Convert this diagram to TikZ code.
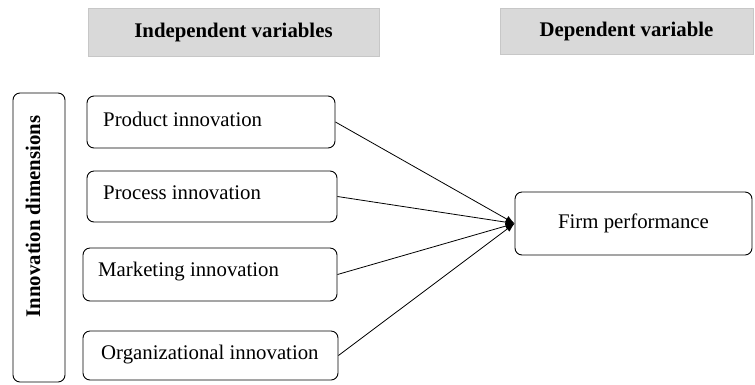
\documentclass[tikz,border=0pt]{standalone}
\usepackage{fontspec}
\setmainfont{Liberation Serif}
\usetikzlibrary{arrows.meta}
\begin{document}
\begin{tikzpicture}[x=1pt,y=-1pt,
  every node/.style={font=\fontsize{20.8}{24}\selectfont},
  header/.style={draw=black!22, fill=black!15, line width=0.8pt, inner sep=0pt, font=\fontsize{20.8}{24}\selectfont\bfseries},
  rbox/.style={draw, line width=0.9pt, rounded corners=7pt, inner sep=0pt},
  conn/.style={line width=0.8pt, -{Latex[length=9pt,width=7pt]}}
]
\useasboundingbox (0,0) rectangle (755,384);
% headers
\node[header, minimum width=291pt, minimum height=48pt] (hind) at (233.5,32) {Independent variables};
\node[header, minimum width=253pt, minimum height=46pt] (hdep) at (626.5,31) {Dependent variable};
% innovation dimensions
\node[rbox, minimum width=52pt, minimum height=289pt] (dim) at (39,237.5) {};
\node[rotate=90, font=\fontsize{20.8}{24}\selectfont\bfseries, inner sep=0pt] (dimtext) at (33,216.5) {Innovation dimensions};
% independent boxes
\node[rbox, minimum width=248pt, minimum height=52pt] (prod) at (211,122) {};
\node[anchor=west, inner sep=0pt] (prodt) at (103,119) {Product innovation};
\node[rbox, minimum width=250pt, minimum height=51pt] (proc) at (212,196.5) {};
\node[anchor=west, inner sep=0pt] (proct) at (103,193) {Process innovation};
\node[rbox, minimum width=254pt, minimum height=53pt] (mark) at (210,274.5) {};
\node[anchor=west, inner sep=0pt] (markt) at (98,272) {Marketing innovation};
\node[rbox, minimum width=255pt, minimum height=49pt] (org) at (210.5,355.5) {};
\node[anchor=west, inner sep=0pt] (orgt) at (101,355) {Organizational innovation};
% dependent box
\node[rbox, minimum width=237pt, minimum height=63pt] (firm) at (633.5,223.5) {Firm performance};
% connectors
\draw[conn] (prod.east) -- (firm.west);
\draw[conn] (proc.east) -- (firm.west);
\draw[conn] (mark.east) -- (firm.west);
\draw[conn] (org.east) -- (firm.west);
\end{tikzpicture}
\end{document}
